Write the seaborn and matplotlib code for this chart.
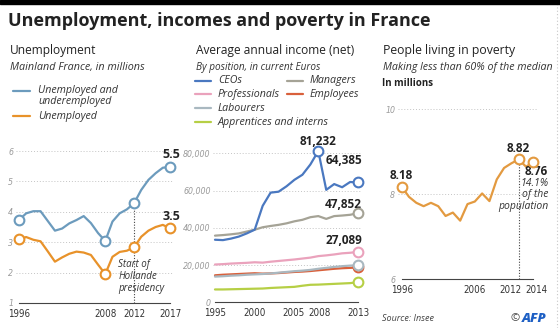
import matplotlib
matplotlib.use("Agg")
import numpy as np
import pandas as pd
import matplotlib.pyplot as plt
import matplotlib.transforms as mtransforms
import seaborn as sns
from matplotlib.lines import Line2D
from matplotlib.patches import Rectangle
from matplotlib import font_manager

# ---------------- data ----------------
unemp_years = list(range(1996, 2018))
underemployed = [3.73, 3.95, 4.02, 4.02, 3.70, 3.38, 3.45, 3.62, 3.73, 3.86, 3.63,
                 3.30, 3.04, 3.68, 3.95, 4.08, 4.28, 4.72, 5.05, 5.27, 5.45, 5.48]
unemployed = [3.10, 3.17, 3.08, 3.03, 2.70, 2.36, 2.50, 2.62, 2.69, 2.66, 2.58,
              2.26, 1.95, 2.52, 2.68, 2.72, 2.83, 3.18, 3.38, 3.50, 3.57, 3.46]
unemp_marked = [1996, 2008, 2012, 2017]
unemp_labels = ["5.5", "3.5"]
unemp_xticks = [1996, 2008, 2012, 2017]
unemp_yticks = [1, 2, 3, 4, 5, 6]

income_years = list(range(1995, 2014))
ceos = [33600, 33400, 34200, 35300, 37000, 39000, 51800, 58900, 59400, 62300,
        65800, 68500, 74000, 81232, 60400, 63500, 61800, 64600, 64385]
managers = [35800, 36100, 36500, 37000, 38000, 39000, 40300, 41000, 41600, 42400,
            43500, 44300, 45700, 46300, 44800, 46300, 46600, 47000, 47852]
professionals = [20300, 20500, 20800, 21000, 21200, 21500, 21300, 21800, 22200, 22600,
                 23000, 23500, 24000, 24800, 25200, 25700, 26300, 26600, 27089]
employees = [14500, 14800, 15000, 15200, 15400, 15600, 15400, 15500, 15700, 16000,
             16300, 16500, 16800, 17200, 17600, 18000, 18300, 18500, 18700]
labourers = [13800, 14000, 14300, 14500, 14800, 15000, 15200, 15500, 15900, 16300,
             16700, 17000, 17400, 18000, 18500, 19000, 19400, 19700, 19900]
apprentices = [6900, 6900, 7000, 7100, 7200, 7300, 7400, 7700, 7900, 8100,
               8300, 8900, 9400, 9500, 9700, 9900, 10100, 10300, 10800]
income_series = ["CEOs", "Managers", "Professionals", "Employees", "Labourers",
                 "Apprentices and interns"]
income_labels = ["81,232", "64,385", "47,852", "27,089"]
income_xticks = [1995, 2000, 2005, 2008, 2013]
income_yticks = [0, 20000, 40000, 60000, 80000]

pov_years = list(range(1996, 2015))
poverty = [8.18, 7.94, 7.80, 7.72, 7.80, 7.72, 7.49, 7.57, 7.38, 7.77,
           7.83, 8.02, 7.84, 8.35, 8.62, 8.73, 8.82, 8.65, 8.76]
pov_marked = [1996, 2012, 2014]
pov_labels = ["8.18", "8.82", "8.76"]
pov_xticks = [1996, 2006, 2012, 2014]
pov_yticks = [6, 8, 10]

# ---------------- fonts ----------------
sns.set_theme(style="white")
flist = font_manager.fontManager.ttflist


def has_bold(fam):
    return any(f.name == fam and (f.weight == "bold" or (isinstance(f.weight, int)
               and f.weight >= 700)) for f in flist)


MAIN = "DejaVu Sans"
for cand in ["Open Sans", "Lato", "Roboto", "Noto Sans", "Liberation Sans"]:
    if has_bold(cand):
        MAIN = cand
        break
plt.rcParams["font.family"] = [MAIN, "DejaVu Sans"]

condensed = any(f.name == "DejaVu Sans" and "condensed" in str(f.stretch) for f in flist)
if condensed:
    TICKFONT = dict(family=["DejaVu Sans"], fontstretch="condensed")
else:
    TICKFONT = dict(family=[MAIN, "DejaVu Sans"])

W, H = 560, 328
fig = plt.figure(figsize=(W / 100, H / 100), dpi=100)
fig.patch.set_facecolor("white")


def fx(px):
    return px / W


def fy(py):
    return 1 - py / H


def add_ax(x0, x1, ytop, ybot):
    return fig.add_axes([fx(x0), fy(ybot), (x1 - x0) / W, (ybot - ytop) / H])


def fit(t, target):
    r = fig.canvas.get_renderer()
    bb = t.get_window_extent(renderer=r)
    t.set_fontsize(t.get_fontsize() * target / bb.width)


C_UNDER = "#6c9bbd"
C_UNEMP = "#e8922a"
C_POV = "#e39a40"
income_colors = {"CEOs": "#4a78c0", "Managers": "#a5a396", "Professionals": "#eaa2bc",
                 "Employees": "#d9603b", "Labourers": "#a9b8c0",
                 "Apprentices and interns": "#b6cf45"}
AXC = "#444444"
GRID = "#c4c4c4"


def style(ax, yticks, ylabels, xmajor, xminor, xbounds, grid_vals):
    ax.set_facecolor("none")
    for s in ["top", "right", "left"]:
        ax.spines[s].set_visible(False)
    ax.spines["bottom"].set_color(AXC)
    ax.spines["bottom"].set_linewidth(0.8)
    ax.spines["bottom"].set_bounds(*xbounds)
    ax.set_yticks(yticks)
    ax.set_yticklabels(ylabels, fontstyle="italic", color="#9a9a9a", fontsize=6.3,
                       **TICKFONT)
    ax.tick_params(axis="y", length=0, pad=2)
    ax.set_xticks(xmajor)
    ax.set_xticklabels([str(v) for v in xmajor], **TICKFONT)
    if xminor is not None:
        ax.set_xticks(xminor, minor=True)
    ax.tick_params(axis="x", which="major", direction="inout", length=6, width=0.7,
                   color=AXC, labelsize=7.0, labelcolor="#333333", pad=1)
    ax.tick_params(axis="x", which="minor", direction="inout", length=4, width=0.6,
                   color="#666666")
    for g in grid_vals:
        ax.axhline(g, color=GRID, ls=(0, (1, 2)), lw=0.7, zorder=0)
    ax.set_xlabel("")
    ax.set_ylabel("")
    ax.grid(False)


def shift_label(ax, idx, dx_px):
    lab = ax.get_xticklabels()[idx]
    lab.set_transform(lab.get_transform() +
                      mtransforms.ScaledTranslation(dx_px / 100, 0, fig.dpi_scale_trans))


def circles(ax, xs, ys, color):
    ax.plot(xs, ys, "o", mfc="white", mec=color, ms=7, mew=1.5, zorder=5, clip_on=False)


# ---------------- top bar / frame ----------------
fig.patches.append(Rectangle((0, fy(3.6)), 1, 3.6 / H, transform=fig.transFigure,
                             color="black", zorder=10))
fig.lines.append(Line2D([fx(557), fx(557)], [0, fy(4)], transform=fig.transFigure,
                        color="#c8c8c8", ls=(0, (1, 2)), lw=0.8))

# ---------------- titles ----------------
t = fig.text(fx(8), fy(21.5), "Unemployment, incomes and poverty in France",
             fontsize=14, fontweight="bold", color="#222222", va="center")
fit(t, 426)

heads = [(10, "Unemployment", 87, "Mainland France, in millions", 133),
         (195.6, "Average annual income (net)", 161, "By position, in current Euros", 124),
         (383, "People living in poverty", 134, "Making less than 60% of the median", 170)]
for x, h, hw, s, sw in heads:
    t = fig.text(fx(x), fy(50.2), h, fontsize=9.5, fontweight="medium", color="#222222",
                 va="center")
    fit(t, hw)
    t = fig.text(fx(x), fy(67.5), s, fontsize=8.5, fontstyle="italic", color="#333333",
                 va="center")
    fit(t, sw)
t = fig.text(fx(382), fy(84), "In millions", fontsize=8.5, fontweight="bold",
             color="#222222", va="center")
fit(t, 51)

# ---------------- panel 1: unemployment ----------------
ax1 = add_ax(16.1, 173.6, 141.9, 303)
n = len(unemp_years)
df1 = pd.DataFrame({"year": unemp_years * 2,
                    "value": underemployed + unemployed,
                    "series": ["Unemployed and underemployed"] * n + ["Unemployed"] * n})
sns.lineplot(data=df1, x="year", y="value", hue="series",
             palette={"Unemployed and underemployed": C_UNDER, "Unemployed": C_UNEMP},
             lw=1.6, legend=False, ax=ax1)
ax1.set_xlim(1995.6, 2017.5)
ax1.set_ylim(1, 6.3)
style(ax1, unemp_yticks, [str(v) for v in unemp_yticks], unemp_xticks, None,
      (unemp_years[0], unemp_years[-1]), unemp_yticks[1:])
for series, col in [(underemployed, C_UNDER), (unemployed, C_UNEMP)]:
    ys = [series[unemp_years.index(y)] for y in unemp_marked]
    circles(ax1, unemp_marked, ys, col)
i12 = unemp_years.index(2012)
ax1.plot([2012, 2012], [1, underemployed[i12]], ls=(0, (1, 1.5)), color=AXC, lw=0.8,
         zorder=1)
for series, lab in [(underemployed, unemp_labels[0]), (unemployed, unemp_labels[1])]:
    ax1.annotate(lab, xy=(unemp_years[-1], series[-1]), xytext=(1, 12),
                 textcoords="offset pixels", ha="center", va="center",
                 fontsize=9, fontweight="bold", color="#222222", annotation_clip=False)
ax1.text(2009.8, 1.87, "Start of\nHollande\npresidency", fontsize=7, fontstyle="italic",
         color="#333333", ha="left", va="center", linespacing=1.1)

# legend panel 1
for yy, col in [(90.7, C_UNDER), (116, C_UNEMP)]:
    fig.lines.append(Line2D([fx(13), fx(30)], [fy(yy), fy(yy)], transform=fig.transFigure,
                            color=col, lw=1.6))
t = fig.text(fx(38), fy(90.7), "Unemployed and", fontsize=8.5, fontstyle="italic",
             color="#333333", va="center")
fit(t, 80)
fs_leg = t.get_fontsize()
fig.text(fx(38), fy(101.7), "underemployed", fontsize=fs_leg, fontstyle="italic",
         color="#333333", va="center")
fig.text(fx(38), fy(116), "Unemployed", fontsize=fs_leg, fontstyle="italic",
         color="#333333", va="center")

# ---------------- panel 2: income ----------------
ax2 = add_ax(213.4, 362, 145.9, 302.3)
vals = {"CEOs": ceos, "Managers": managers, "Professionals": professionals,
        "Employees": employees, "Labourers": labourers,
        "Apprentices and interns": apprentices}
draw_order = ["Apprentices and interns", "Employees", "Labourers", "Professionals",
              "Managers", "CEOs"]
m = len(income_years)
df2 = pd.DataFrame({"year": income_years * len(draw_order),
                    "value": sum([vals[s] for s in draw_order], []),
                    "series": sum([[s] * m for s in draw_order], [])})
sns.lineplot(data=df2, x="year", y="value", hue="series", hue_order=draw_order,
             palette=income_colors, lw=1.6, legend=False, ax=ax2)
ax2.set_xlim(1994.8, 2013.5)
ax2.set_ylim(0, 84000)
style(ax2, income_yticks, ["0"] + [f"{v:,}" for v in income_yticks[1:]], income_xticks,
      income_years, (income_years[0], income_years[-1]), income_yticks[1:])
shift_label(ax2, 2, -1)
shift_label(ax2, 3, 1)
for s in draw_order:
    circles(ax2, [income_years[-1]], [vals[s][-1]], income_colors[s])
i08 = income_years.index(2008)
circles(ax2, [2008], [ceos[i08]], income_colors["CEOs"])
ax2.annotate(income_labels[0], xy=(2008, ceos[i08]), xytext=(0, 10),
             textcoords="offset pixels", ha="center", va="center", fontsize=8.5,
             fontweight="bold", color="#222222", annotation_clip=False)
for lab, s, dy in [(income_labels[1], "CEOs", 21.5), (income_labels[2], "Managers", 9),
                   (income_labels[3], "Professionals", 11.6)]:
    ax2.annotate(lab, xy=(income_years[-1], vals[s][-1]), xytext=(4, dy),
                 textcoords="offset pixels", ha="right", va="center", fontsize=8.5,
                 fontweight="bold", color="#222222", annotation_clip=False)

# legend panel 2
leg_pos = [("CEOs", 195, 80.7), ("Managers", 287, 80.7), ("Professionals", 195, 94.3),
           ("Employees", 287, 94.3), ("Labourers", 195, 108),
           ("Apprentices and interns", 195, 122)]
for s, x0, yy in leg_pos:
    fig.lines.append(Line2D([fx(x0), fx(x0 + 16)], [fy(yy), fy(yy)],
                            transform=fig.transFigure, color=income_colors[s], lw=1.6))
    fig.text(fx(x0 + 23), fy(yy), s, fontsize=fs_leg, fontstyle="italic", color="#333333",
             va="center")

# ---------------- panel 3: poverty ----------------
ax3 = add_ax(398.0, 537.0, 100.8, 279.3)
df3 = pd.DataFrame({"year": pov_years, "value": poverty})
sns.lineplot(data=df3, x="year", y="value", color=C_POV, lw=1.6, ax=ax3)
ax3.set_xlim(1995.5, 2014.5)
ax3.set_ylim(6, 10.2)
style(ax3, pov_yticks, [str(v) for v in pov_yticks], pov_xticks, pov_years,
      (pov_years[0], pov_years[-1]), pov_yticks[1:])
shift_label(ax3, 2, -8)
shift_label(ax3, 3, 3)
pys = [poverty[pov_years.index(y)] for y in pov_marked]
circles(ax3, pov_marked, pys, C_POV)
ax3.plot([2012, 2012], [6, pys[1]], ls=(0, (1, 1.5)), color=AXC, lw=0.8, zorder=1)
for (x, y), lab, off, ha in zip(zip(pov_marked, pys), pov_labels,
                                [(0, 11), (0, 11.3), (15, -9.5)],
                                ["center", "center", "right"]):
    ax3.annotate(lab, xy=(x, y), xytext=off, textcoords="offset pixels", ha=ha,
                 va="center", fontsize=8.5, fontweight="bold", color="#222222",
                 annotation_clip=False)
ax3.annotate("14.1%\nof the\npopulation", xy=(pov_years[-1], poverty[-1]), xytext=(15, -33),
             textcoords="offset pixels", ha="right", va="center", fontsize=7.5,
             fontstyle="italic", color="#333333", linespacing=1.1, annotation_clip=False)

# ---------------- footer ----------------
fig.text(fx(382), fy(318.8), "Source: Insee", fontsize=6.5, fontstyle="italic",
         color="#444444", va="center")
fig.text(fx(520), fy(318.8), "©", fontsize=8, color="#444444", va="center", ha="right")
fig.text(fx(522), fy(318.8), "AFP", fontsize=9.5, fontweight="heavy", fontstyle="italic",
         color="#1d5fc4", va="center", ha="left")

fig.savefig("out.png", dpi=100)
